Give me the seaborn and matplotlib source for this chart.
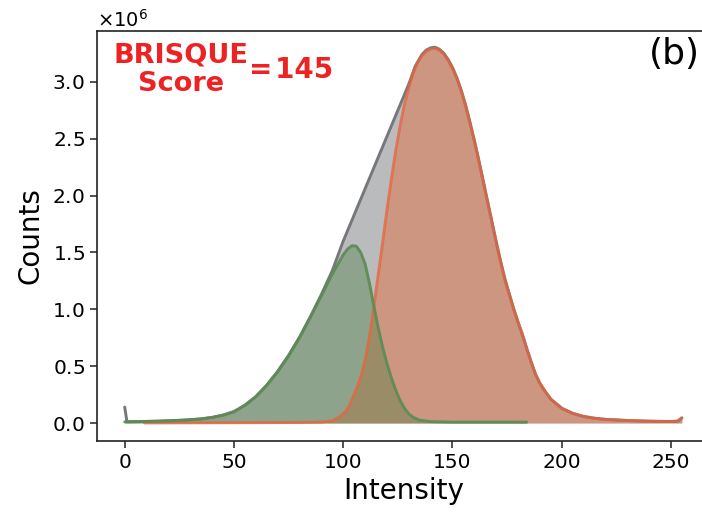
import matplotlib
matplotlib.use("Agg")
import matplotlib.pyplot as plt
import numpy as np
import pandas as pd
import seaborn as sns

sns.set_style("ticks")
plt.rcParams["font.family"] = ["DejaVu Sans"]
plt.rcParams.update({"text.color": "black", "axes.labelcolor": "black",
                     "xtick.color": "black", "ytick.color": "black"})

# Pixel-intensity histograms, counts in millions
total_intensity = [0, 1, 5, 10, 15, 20, 25, 30, 35, 40, 45, 50, 55, 60, 65, 70,
                   75, 80, 85, 90, 95, 100, 105, 110, 115, 120, 125, 130, 133,
                   136, 138, 140, 142, 144, 146, 148, 150, 152, 154, 156, 158,
                   160, 162, 164, 166, 168, 170, 172, 174, 176, 178, 180, 182,
                   184, 186, 188, 190, 192, 195, 200, 205, 210, 215, 220, 230,
                   240, 250, 253, 254, 255]
total_counts = [0.14, 0.012, 0.012, 0.014, 0.016, 0.020, 0.024, 0.029, 0.037,
                0.050, 0.070, 0.100, 0.157, 0.233, 0.334, 0.455, 0.595, 0.755,
                0.937, 1.13, 1.34, 1.60, 1.83, 2.06, 2.29, 2.52, 2.75, 2.98,
                3.14, 3.24, 3.28, 3.30, 3.305, 3.288, 3.253, 3.198, 3.128,
                3.038, 2.928, 2.798, 2.648, 2.488, 2.318, 2.138, 1.958, 1.778,
                1.598, 1.428, 1.268, 1.138, 1.008, 0.888, 0.778, 0.658, 0.54,
                0.43, 0.35, 0.29, 0.21, 0.13, 0.085, 0.058, 0.042, 0.032,
                0.022, 0.016, 0.013, 0.016, 0.030, 0.045]

dark_intensity = [0, 5, 10, 15, 20, 25, 30, 35, 40, 45, 50, 55, 60, 65, 70, 75,
                  80, 85, 90, 95, 100, 102, 104, 106, 108, 110, 112, 114, 116,
                  118, 120, 122, 124, 126, 128, 130, 132, 135, 140, 150, 160,
                  170, 184]
dark_counts = [0.010, 0.012, 0.014, 0.016, 0.019, 0.023, 0.028, 0.036, 0.048,
               0.068, 0.100, 0.155, 0.230, 0.330, 0.450, 0.590, 0.750, 0.930,
               1.12, 1.31, 1.48, 1.53, 1.56, 1.555, 1.50, 1.40, 1.23, 1.03,
               0.84, 0.67, 0.525, 0.40, 0.29, 0.20, 0.13, 0.08, 0.05, 0.025,
               0.012, 0.008, 0.008, 0.008, 0.008]

bright_intensity = [9, 20, 40, 60, 80, 90, 95, 98, 101, 103, 106, 108, 110,
                    112, 114, 116, 118, 120, 122, 124, 126, 128, 130, 132, 134,
                    136, 138, 140, 142, 144, 146, 148, 150, 152, 154, 156, 158,
                    160, 162, 164, 166, 168, 170, 172, 174, 176, 178, 180, 182,
                    184, 186, 188, 190, 192, 195, 200, 205, 210, 215, 220, 230,
                    240, 250, 253, 254, 255]
bright_counts = [0.0, 0.001, 0.002, 0.003, 0.005, 0.008, 0.02, 0.05, 0.10,
                 0.16, 0.30, 0.40, 0.55, 0.76, 1.02, 1.30, 1.58, 1.87, 2.14,
                 2.39, 2.61, 2.80, 2.95, 3.08, 3.17, 3.23, 3.27, 3.29, 3.295,
                 3.28, 3.245, 3.19, 3.12, 3.03, 2.92, 2.79, 2.64, 2.48, 2.31,
                 2.13, 1.95, 1.77, 1.59, 1.42, 1.26, 1.13, 1.00, 0.89, 0.78,
                 0.65, 0.535, 0.43, 0.35, 0.29, 0.21, 0.13, 0.085, 0.058,
                 0.042, 0.032, 0.022, 0.016, 0.013, 0.016, 0.030, 0.045]

score_text = "BRISQUE\nScore"
score_value = "=\u200a145"
panel_tag = "(b)"

total = pd.DataFrame({"Intensity": total_intensity,
                      "Counts": np.array(total_counts) * 1e6})
dark = pd.DataFrame({"Intensity": dark_intensity,
                     "Counts": np.array(dark_counts) * 1e6})
bright = pd.DataFrame({"Intensity": bright_intensity,
                       "Counts": np.array(bright_counts) * 1e6})

fig = plt.figure(figsize=(7.02, 5.13), dpi=100)
ax = fig.add_axes([0.138, 0.1404, 0.873, 0.7992])

# filled areas: whole image, then bright and dark components
ax.fill_between(total["Intensity"], total["Counts"], color="#50555c",
                alpha=0.4, lw=0)
ax.fill_between(bright["Intensity"], bright["Counts"], color="#eb5f28",
                alpha=0.4, lw=0)
ax.fill_between(dark["Intensity"], dark["Counts"], color="#4e7f41",
                alpha=0.4, lw=0)

sns.lineplot(data=total, x="Intensity", y="Counts", ax=ax, color="#75777b",
             lw=2.1, sort=False)
sns.lineplot(data=bright, x="Intensity", y="Counts", ax=ax, color="#e8643a",
             lw=2.1, alpha=0.78, sort=False)
sns.lineplot(data=dark, x="Intensity", y="Counts", ax=ax, color="#5e8c56",
             lw=2.1, alpha=0.95, sort=False)

ax.set_xlim(-12.75, 267.75)
ax.set_ylim(-0.158e6, 3.448e6)
ax.set_xticks([0, 50, 100, 150, 200, 250])
ax.set_yticks([0, 0.5e6, 1.0e6, 1.5e6, 2.0e6, 2.5e6, 3.0e6])
ax.ticklabel_format(axis="y", style="sci", scilimits=(0, 0), useMathText=True)
ax.yaxis.get_offset_text().set_fontsize(14)
ax.tick_params(labelsize=14.5, length=5, width=1.1, color="#222222")
for sp in ax.spines.values():
    sp.set_linewidth(1.2)
    sp.set_color("#222222")

ax.set_xlabel("Intensity", fontsize=20, labelpad=4)
ax.set_ylabel("Counts", fontsize=20, labelpad=6)

ax.text(0.137, 0.905, score_text, transform=ax.transAxes, ha="center",
        va="center", fontsize=19.5, fontweight="bold", color="#ee2222",
        linespacing=1.12)
ax.text(0.248, 0.905, score_value, transform=ax.transAxes, ha="left",
        va="center", fontsize=20, fontweight="bold", color="#ee2222")
ax.text(0.984, 0.985, panel_tag, transform=ax.transAxes, ha="right",
        va="top", fontsize=26)

fig.savefig("out.png", dpi=100)
